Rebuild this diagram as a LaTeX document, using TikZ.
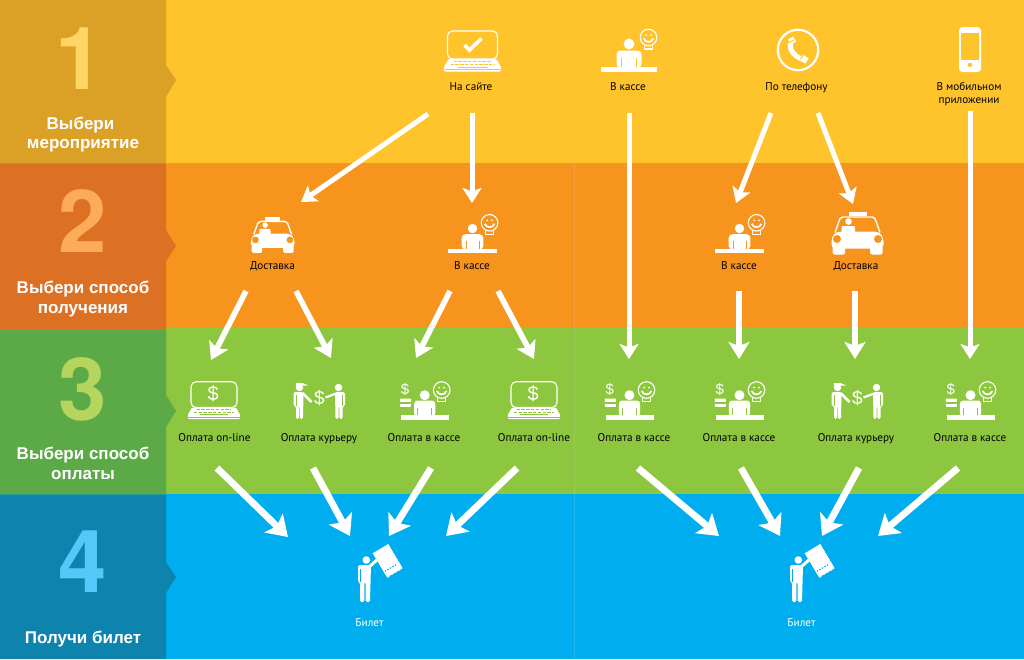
\documentclass[tikz,border=0pt]{standalone}
\usepackage{fontspec}
\usetikzlibrary{arrows.meta}
\newfontfamily\lblfont{PT Sans}
\newfontfamily\headfont{Liberation Sans}
\newfontfamily\digitfont{TeX Gyre Heros}
\definecolor{bandY}{HTML}{FFC32B}
\definecolor{bandO}{HTML}{F7941E}
\definecolor{bandG}{HTML}{8DC63F}
\definecolor{bandB}{HTML}{00AEEF}
\definecolor{sideY}{HTML}{DBA026}
\definecolor{sideO}{HTML}{DC7124}
\definecolor{sideG}{HTML}{5BAA47}
\definecolor{sideB}{HTML}{0E83AD}
\definecolor{numY}{HTML}{FFD566}
\definecolor{numO}{HTML}{FBAB59}
\definecolor{numG}{HTML}{B5D55E}
\definecolor{numB}{HTML}{54C8F8}
\tikzset{
  flow/.style={white,line width=5pt,-{Stealth[width=19pt,length=15pt,inset=3.5pt]}},
  flowmid/.style={white,line width=5.6pt,-{Stealth[width=21pt,length=17pt,inset=4pt]}},
  flowbig/.style={white,line width=6.8pt,-{Stealth[width=26pt,length=20pt,inset=4.5pt]}},
  lbl/.style={anchor=base,inner sep=0pt,align=center,text=black,font=\lblfont\fontsize{11.2}{13.5}\selectfont},
  lblw/.style={lbl,text=white},
  head/.style={anchor=base,inner sep=0pt,text=white,font=\headfont\bfseries\fontsize{17}{20}\selectfont},
  num/.style={anchor=base,inner sep=0pt,font=\digitfont\bfseries\fontsize{87}{90}\selectfont},
  sym/.style={inner sep=0pt,text=white,font=\headfont\fontsize{#1}{#1}\selectfont},
  pics/bulb/.style={code={
    \draw[white,line width=1.1pt] (0,0) circle (8.3pt);
    \draw[white,line width=1.1pt] (-3.8,7.4) -- (-3.8,11.5) -- (3.8,11.5) -- (3.8,7.4);
    \draw[white,line width=1.7pt] (-4.8,1) .. controls (-3.5,5.5) and (3.5,5.5) .. (4.8,1);
    \fill[white] (-2.4,-2.4) circle (1pt) (2.4,-2.4) circle (1pt);
  }},
  pics/kiosk/.style={code={
    \fill[white] (-28,-5) rectangle (28,0);
    \fill[white,rounded corners=4pt] (-12.5,-4) -- (-12.5,-21.5) -- (12.5,-21.5) -- (12.5,-4) -- cycle;
    \draw[bg,line width=.8pt] (-7.5,-5) -- (-7.5,-14) (7.5,-5) -- (7.5,-14);
    \fill[white] (0,-28) circle (5.4pt);
    \pic at (19.5,-34.5) {bulb};
  }},
  pics/cashkiosk/.style={code={
    \fill[white] (-24,-4.3) rectangle (24,0);
    \fill[white,rounded corners=3.5pt] (-10.7,-3) -- (-10.7,-19) -- (10.7,-19) -- (10.7,-3) -- cycle;
    \draw[bg,line width=.7pt] (-7,-4.3) -- (-7,-12) (7,-4.3) -- (7,-12);
    \fill[white] (0,-24.3) circle (5pt);
    \pic at (17,-29.5) {bulb};
    \fill[white,rounded corners=.6pt] (-24.7,-21) rectangle (-13.7,-12.7);
    \fill[bg] (-24.7,-17.5) rectangle (-13.7,-16);
    \node[sym=15] (-cur) at (-19.7,-30.5) {\$};
  }},
  pics/laptop/.style={code={
    \draw[white,line width=1.1pt,rounded corners=5pt] (-25,-41) rectangle (25,-13);
    \fill[white,rounded corners=1.2pt] (-24,-13) -- (24,-13) -- (28.5,-5) -- (28.5,-.5) -- (-28.5,-.5) -- (-28.5,-5) -- cycle;
    \draw[bg,line width=1pt,dash pattern=on 3.5pt off 1.3pt] (-19,-10.5) -- (19,-10.5);
    \draw[bg,line width=1pt,dash pattern=on 3.5pt off 1.3pt] (-22,-7.8) -- (22,-7.8);
    \draw[bg,line width=1pt] (-15,-5) -- (15,-5);
    \draw[bg,line width=.7pt] (-28,-2.6) -- (28,-2.6);
  }},
  pics/check/.style={code={
    \draw[white,line width=3.6pt] (-8,-27) -- (-3,-22) -- (9,-33.5);
  }},
  pics/cash/.style={code={
    \node[sym=20] (-cur) at (-1,-28) {\$};
  }},
  pics/taxi/.style={code={
    \fill[white] (-9,-42.5) rectangle (9,-38.2);
    \draw[white,line width=1.4pt,rounded corners=2pt] (-22.5,-22) -- (-17,-37.5) -- (17,-37.5) -- (22.5,-22);
    \fill[white,rounded corners=4pt] (-26,-6) -- (-26,-17) -- (-21,-23) -- (21,-23) -- (26,-17) -- (26,-6) -- cycle;
    \fill[white,rounded corners=1.5pt] (-25,-9) rectangle (-12.5,0);
    \fill[white,rounded corners=1.5pt] (12.5,-9) rectangle (25,0);
    \fill[bg] (-20.5,-15.5) circle (4pt) (20.5,-15.5) circle (4pt);
    \fill[white] (-9,-33) circle (3.3pt);
    \fill[white,rounded corners=1pt] (-16,-28.5) rectangle (-2.5,-22);
  }},
  pics/couriers/.style={code={
    \begin{scope}[shift={(-19.5,0)}]
      \fill[white] (0,-31.5) circle (3.7pt);
      \fill[white] (-3.7,-36) -- (3,-36) -- (8.5,-33.5) -- (-3.7,-33.5) -- cycle;
      \fill[white,rounded corners=1.5pt] (-6,-27) -- (4,-27) -- (3.5,0) -- (.4,0) -- (.4,-13) -- (-.4,-13) -- (-.4,0) -- (-3.5,0) -- (-3.5,-13) -- (-6,-13) -- cycle;
      \draw[bg,line width=.7pt] (-3.6,-13) -- (-3.6,-24);
      \draw[white,line width=2.6pt] (3,-26) -- (12,-17);
    \end{scope}
    \begin{scope}[shift={(20,0)}]
      \fill[white] (-.5,-31.5) circle (3.7pt);
      \fill[white,rounded corners=1.5pt] (-4,-27) -- (6,-27) -- (6,-13) -- (3.5,-13) -- (3.5,0) -- (.4,0) -- (.4,-13) -- (-.4,-13) -- (-.4,0) -- (-3.5,0) -- cycle;
      \draw[bg,line width=.7pt] (3.6,-13) -- (3.6,-24);
      \draw[white,line width=2.2pt] (-3,-25.5) -- (-13.5,-21.5);
    \end{scope}
    \node[sym=19] (-cur) at (.5,-20.5) {\$};
  }},
  pics/ticket/.style={code={
    \fill[white] (1.3,-42) circle (3.8pt);
    \fill[white,rounded corners=1.5pt] (-7,-37) -- (6,-37) -- (5,0) -- (.7,0) -- (.7,-20) -- (-.7,-20) -- (-.7,0) -- (-5,0) -- (-5,-20) -- (-7,-20) -- cycle;
    \draw[bg,line width=.7pt] (-4.8,-20) -- (-4.8,-33);
    \draw[white,line width=3pt] (4,-35) -- (13,-43);
    \fill[white] (7.7,-48.7) -- (23.3,-58) -- (37.7,-33.7) -- (36,-33) -- (34.5,-31.5) -- (32.5,-31) -- (31,-29.5) -- (29,-29) -- (27.5,-27.5) -- (25.5,-27) -- (24,-25) -- (22.3,-24.3) -- cycle;
    \fill[bg] (20.5,-31) circle (.8pt) (23,-32.5) circle (.8pt) (25.5,-34) circle (.8pt) (28,-35.5) circle (.8pt) (30.5,-37) circle (.8pt);
  }},
  pics/phone/.style={code={
    \draw[white,line width=2.2pt] (0,0) circle (20.2pt);
    \draw[white,line width=5pt] (-7.5,-7) .. controls (-9,1) and (-2,8) .. (6,9.5);
    \draw[white,line width=6pt] (-7.5,-12) -- (-4.5,-7);
    \draw[white,line width=6pt] (3,7) -- (9,11);
    \draw[bandY,line width=.9pt] (-9.5,-7) -- (-4,-10) (5.5,4.5) -- (2.5,9.5);
  }},
  pics/mobile/.style={code={
    \fill[white,rounded corners=3.5pt] (-11,-22.5) rectangle (11,22.5);
    \fill[bg] (-8.7,-16.8) rectangle (8.7,10.5);
    \fill[bg] (0,15.5) circle (2.2pt);
  }},
}
\begin{document}
\begin{tikzpicture}[x=1pt,y=-1pt]
\useasboundingbox (0,0) rectangle (1024,659);
% bands
\fill[bandY] (0,0) rectangle (1024,162.5);
\fill[bandO] (0,162.5) rectangle (1024,328.3);
\fill[bandG] (0,328.3) rectangle (1024,493.5);
\fill[bandB] (0,493.5) rectangle (1024,659);
\fill[bandO!88!white] (574.2,162.5) rectangle (574.8,328.3);
\fill[bandG!88!white] (574.2,328.3) rectangle (574.8,493.5);
\fill[bandB!88!white] (574.2,493.5) rectangle (574.8,659);
% left column
\fill[sideY] (0,0) -- (166,0) -- (166,65) -- (176,80) -- (166,97) -- (166,163.3) -- (0,163.3) -- cycle;
\fill[sideO] (0,163.3) -- (166,163.3) -- (166,230) -- (176,246) -- (166,261) -- (166,329.3) -- (0,329.3) -- cycle;
\fill[sideG] (0,329.3) -- (166,329.3) -- (166,395) -- (176,411) -- (166,427) -- (166,494.5) -- (0,494.5) -- cycle;
\fill[sideB] (0,494.5) -- (166,494.5) -- (166,562) -- (176,577) -- (166,593) -- (166,659) -- (0,659) -- cycle;
\node[num,text=numY] (n1) at (80,89.5) {1};
\node[num,text=numO] (n2) at (83,252) {2};
\node[num,text=numG] (n3) at (83,420) {3};
\node[num,text=numB] (n4) at (83,592) {4};
\node[head] (h1a) at (80.5,129) {Выбери};
\node[head] (h1b) at (83,148) {мероприятие};
\node[head] (h2a) at (83,293) {Выбери способ};
\node[head] (h2b) at (83,313) {получения};
\node[head] (h3a) at (83,459) {Выбери способ};
\node[head] (h3b) at (83,479) {оплаты};
\node[head] (h4a) at (83,643) {Получи билет};
% row 1
\begin{scope}
\colorlet{bg}{bandY}
\pic (ilap1) at (472.5,72) {laptop};
\pic (ichk1) at (472.5,72) {check};
\pic (ikio1) at (629,72) {kiosk};
\pic (ipho1) at (798,50) {phone};
\pic (imob1) at (970,49.5) {mobile};
\end{scope}
\node[lbl] (t1) at (471,90) {На сайте};
\node[lbl] (t2) at (628,90) {В кассе};
\node[lbl] (t3) at (796.5,90) {По телефону};
\node[lbl] (t4) at (969,103.5) {В мобильном\\приложении};
% row 2
\begin{scope}
\colorlet{bg}{bandO}
\pic[scale=.84] (itax1) at (272.7,252.9) {taxi};
\pic[scale=.875] (ikio2) at (472.5,253) {kiosk};
\pic[scale=.875] (ikio3) at (739.5,253) {kiosk};
\pic (itax2) at (857.5,254.5) {taxi};
\end{scope}
\node[lbl] (t5) at (272.5,269.5) {Доставка};
\node[lbl] (t6) at (472,269.5) {В кассе};
\node[lbl] (t7) at (739,269.5) {В кассе};
\node[lbl] (t8) at (856,269.5) {Доставка};
% row 3
\begin{scope}
\colorlet{bg}{bandG}
\pic[scale=.92] (ilap2) at (214,419.5) {laptop};
\pic[scale=.92] (icsh2) at (214,419.5) {cash};
\pic (icou1) at (319,419) {couriers};
\pic (icas1) at (424.7,419.5) {cashkiosk};
\pic[scale=.92] (ilap3) at (534,419.5) {laptop};
\pic[scale=.92] (icsh3) at (534,419.5) {cash};
\pic (icas2) at (629.5,419.5) {cashkiosk};
\pic (icas3) at (739.5,419.5) {cashkiosk};
\pic (icou2) at (857,419) {couriers};
\pic (icas4) at (970.5,419.5) {cashkiosk};
\end{scope}
\node[lbl] (t9) at (214.5,441) {Оплата on-line};
\node[lbl] (t10) at (319,441) {Оплата курьеру};
\node[lbl] (t11) at (424,441) {Оплата в кассе};
\node[lbl] (t12) at (534,441) {Оплата on-line};
\node[lbl] (t13) at (634,441) {Оплата в кассе};
\node[lbl] (t14) at (739,441) {Оплата в кассе};
\node[lbl] (t15) at (856,441) {Оплата курьеру};
\node[lbl] (t16) at (970,441) {Оплата в кассе};
% row 4
\begin{scope}
\colorlet{bg}{bandB}
\pic (itic1) at (365,602) {ticket};
\pic (itic2) at (797,602) {ticket};
\end{scope}
\node[lblw] (t17) at (369.5,626.7) {Билет};
\node[lblw] (t18) at (801.5,626.7) {Билет};
% arrow ends
\coordinate (s1) at (428,114);  \coordinate (e1) at (301,202);
\coordinate (s2) at (472,113);  \coordinate (e2) at (472,203);
\coordinate (s3) at (629,113);  \coordinate (e3) at (629,359);
\coordinate (s4) at (771,113);  \coordinate (e4) at (736,203);
\coordinate (s5) at (818,113);  \coordinate (e5) at (853,204);
\coordinate (s6) at (970,111);  \coordinate (e6) at (970,359);
\coordinate (s7) at (246,291);  \coordinate (e7) at (211,360);
\coordinate (s8) at (296,291);  \coordinate (e8) at (331,358);
\coordinate (s9) at (450,291);  \coordinate (e9) at (416,358);
\coordinate (s10) at (498,291); \coordinate (e10) at (534,359);
\coordinate (s11) at (739,291); \coordinate (e11) at (739,359);
\coordinate (s12) at (855,291); \coordinate (e12) at (855,359);
\coordinate (s13) at (217,468); \coordinate (e13) at (288,537);
\coordinate (s14) at (313,468); \coordinate (e14) at (350,536);
\coordinate (s15) at (431,468); \coordinate (e15) at (389,536);
\coordinate (s16) at (517,468); \coordinate (e16) at (446,536);
\coordinate (s17) at (638,468); \coordinate (e17) at (719,536);
\coordinate (s18) at (741,468); \coordinate (e18) at (780,536);
\coordinate (s19) at (859,468); \coordinate (e19) at (822,536);
\coordinate (s20) at (958,468); \coordinate (e20) at (878,536);
\foreach \k in {1,...,6} {\draw[flow] (s\k) -- (e\k);}
\foreach \k in {7,...,12} {\draw[flowmid] (s\k) -- (e\k);}
\foreach \k in {13,...,20} {\draw[flowbig] (s\k) -- (e\k);}
\end{tikzpicture}
\end{document}
